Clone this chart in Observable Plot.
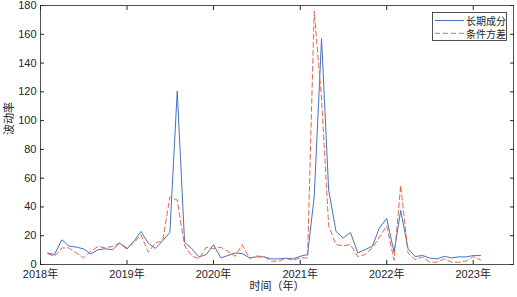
<!DOCTYPE html>
<html><head><meta charset="utf-8">
<script src="https://cdn.jsdelivr.net/npm/d3@7"></script>
<script src="https://cdn.jsdelivr.net/npm/@observablehq/plot@0.6"></script>
<style>
body{margin:0;background:#fff;}
#wrap{position:relative;width:517px;height:297px;font-family:"Liberation Sans","Noto Sans CJK SC",sans-serif;}
#legend{position:absolute;left:0;top:0;}
</style>
</head><body>
<div id="wrap"></div>
<script>
// monthly observations Jan 2018 – Jan 2023 (plotted at month end)
const startMonth = Date.UTC(2018, 1, 1);
const endMonth = Date.UTC(2023, 2, 1);
const months = d3.utcMonth.range(new Date(startMonth), new Date(endMonth));

const longTerm = [8.0,6.9,17.2,12.8,12.1,10.9,7.4,10.3,10.9,10.3,14.8,10.8,
  16.5,23.0,14.8,11.2,16.6,22.3,120.5,15.5,11.0,5.2,6.9,13.8,
  4.6,6.2,8.0,7.6,4.6,5.3,5.3,3.9,3.9,4.4,3.9,5.7,
  6.9,47,157,51.7,23,18.4,22.3,8.0,10.3,12.6,25.3,32,
  8.5,37.5,11,5.5,6.3,4.4,3.9,5.7,4.6,5.3,5.3,6.2,6.2];
const condVar = [7.4,5.7,11.5,11.5,8.0,4.6,9.2,12.6,11.5,12.6,15.0,11.5,
  15.4,20.7,8.5,15.0,16.6,47.0,44.8,13.0,6.0,4.0,12.0,11.0,
  12.0,9.2,5.7,13.8,4.2,5.9,5.5,2.3,2.3,4.2,3.0,4.5,
  4.6,176,115,27,13.8,13.0,13.8,5.5,6.9,11.5,19,27,
  3,55,8,3.4,5.3,1.6,1.6,3.9,1.6,1.6,2.3,5.5,3.2];

const seriesNames = ["长期成分", "条件方差"];
const yearTicks = [2018, 2019, 2020, 2021, 2022, 2023];
const yTicks = [0, 20, 40, 60, 80, 100, 120, 140, 160, 180];
const xLabel = "时间（年）";
const yLabel = "波动率";

const blue = "#4472C4";
const red = "#E8674A";

const data = months.map((m, i) => ({date: m, long: longTerm[i], cond: condVar[i]}));
const xt = yearTicks.map(y => new Date(Date.UTC(y, 0, 1)));

const chart = Plot.plot({
  width: 517, height: 297,
  marginLeft: 40, marginRight: 4, marginTop: 5, marginBottom: 33,
  x: {type: "utc", domain: [new Date(Date.UTC(2018, 0, 1)), new Date(Date.UTC(2023, 5, 20))]},
  y: {domain: [0, 180]},
  style: {fontFamily: '"Liberation Sans","Noto Sans CJK SC",sans-serif', fontSize: "11px", color: "#262626", background: "#fff"},
  marks: [
    Plot.lineY(data, {x: "date", y: "long", stroke: blue, strokeWidth: 1}),
    Plot.lineY(data, {x: "date", y: "cond", stroke: red, strokeWidth: 1, strokeDasharray: "5,3"}),
    Plot.frame({stroke: "#262626", strokeWidth: 0.8}),
    Plot.axisX({anchor: "bottom", ticks: xt, tickFormat: d => d.getUTCFullYear() + "年", tickSize: -4, tickPadding: 10, label: null}),
    Plot.axisX({anchor: "top", ticks: xt, tickFormat: () => "", tickSize: -4, label: null}),
    Plot.axisY({anchor: "left", ticks: yTicks, tickSize: -4, tickPadding: 8, label: null}),
    Plot.axisY({anchor: "right", ticks: yTicks, tickFormat: () => "", tickSize: -4, label: null}),
    Plot.text([xLabel], {frameAnchor: "bottom", dy: 25, fontSize: 11, fill: "#262626"}),
    Plot.text([yLabel], {frameAnchor: "left", dx: -31, rotate: -90, fontSize: 11, fill: "#262626"})
  ]
});
const wrap = document.getElementById("wrap");
wrap.appendChild(chart);

// legend
const ns = "http://www.w3.org/2000/svg";
const leg = document.createElementNS(ns, "svg");
leg.setAttribute("id", "legend");
leg.setAttribute("width", 517);
leg.setAttribute("height", 60);
const box = document.createElementNS(ns, "rect");
box.setAttribute("x", 432.5); box.setAttribute("y", 12.5);
box.setAttribute("width", 74); box.setAttribute("height", 28);
box.setAttribute("fill", "#fff"); box.setAttribute("stroke", "#262626"); box.setAttribute("stroke-width", 0.8);
leg.appendChild(box);
const colors = [blue, red];
const dashes = [null, "5,3"];
seriesNames.forEach((name, i) => {
  const y = 20.5 + i * 12.8;
  const ln = document.createElementNS(ns, "line");
  ln.setAttribute("x1", 435); ln.setAttribute("x2", 464);
  ln.setAttribute("y1", y); ln.setAttribute("y2", y);
  ln.setAttribute("stroke", colors[i]); ln.setAttribute("stroke-width", 1);
  if (dashes[i]) ln.setAttribute("stroke-dasharray", dashes[i]);
  leg.appendChild(ln);
  const t = document.createElementNS(ns, "text");
  t.setAttribute("x", 466); t.setAttribute("y", y);
  t.setAttribute("dominant-baseline", "central");
  t.setAttribute("font-size", 10);
  t.setAttribute("font-family", '"Noto Sans CJK SC",sans-serif');
  t.setAttribute("fill", "#262626");
  t.textContent = name;
  leg.appendChild(t);
});
wrap.appendChild(leg);
</script>
</body></html>
